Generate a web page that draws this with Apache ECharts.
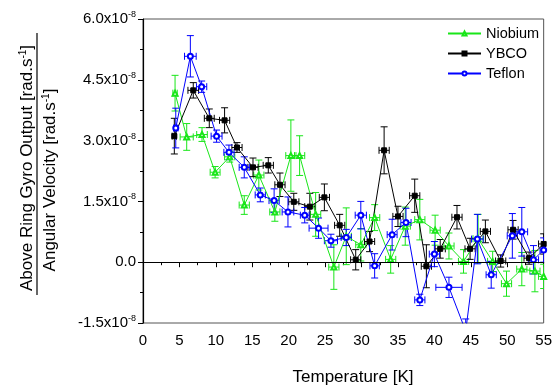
<!DOCTYPE html>
<html>
<head>
<meta charset="utf-8">
<script src="https://cdn.jsdelivr.net/npm/echarts@6/dist/echarts.min.js"></script>
<style>
html,body{margin:0;padding:0;background:#fff;}
#chart{width:555px;height:388px;}
</style>
</head>
<body>
<div id="chart"></div>
<script>
// values in units of 1e-8 rad.s^-1 / rad.s^-1
const niobiumT    = [4.4, 6.0, 8.1, 9.9, 11.9, 13.9, 15.9, 18.1, 20.3, 21.5, 23.7, 26.2, 27.9, 29.9, 31.8, 34.0, 36.0, 38.0, 40.1, 42.0, 44.0, 46.0, 48.0, 49.9, 52.0, 53.8, 55.0];
const niobiumV    = [4.17, 3.09, 3.15, 2.22, 2.60, 1.41, 2.15, 1.24, 2.63, 2.63, 1.18, -0.12, 0.64, 0.43, 1.10, 0.07, 0.89, 1.05, 0.79, 0.40, 0.02, 0.58, 0.02, -0.53, -0.17, -0.22, -0.35];
const niobiumVErr = [0.44, 0.33, 0.17, 0.14, 0.13, 0.23, 0.37, 0.23, 0.88, 0.49, 0.54, 0.55, 0.70, 0.40, 0.32, 0.34, 0.47, 0.50, 0.37, 0.32, 0.29, 0.60, 0.25, 0.31, 0.41, 0.51, 0.30];
const niobiumTErr = [0.3, 0.9, 0.73, 0.68, 0.7, 0.7, 0.7, 0.7, 0.7, 0.7, 0.7, 0.7, 0.7, 0.7, 0.7, 0.7, 0.7, 0.7, 0.7, 0.7, 0.7, 0.7, 0.7, 0.7, 0.7, 0.7, 0.7];

const ybcoT    = [4.3, 6.9, 9.1, 11.2, 12.9, 15.1, 17.2, 18.8, 20.7, 22.9, 24.9, 27.0, 29.2, 31.1, 33.1, 35.0, 37.3, 38.9, 40.8, 43.1, 44.9, 47.0, 49.1, 50.8, 53.0, 55.0];
const ybcoV    = [3.11, 4.24, 3.55, 3.50, 2.83, 2.34, 2.39, 1.91, 1.49, 1.37, 1.60, 0.91, 0.06, 0.51, 2.76, 1.13, 1.64, -0.10, 0.33, 1.11, 0.33, 0.76, 0.03, 0.80, 0.10, 0.45];
const ybcoVErr = [0.44, 0.19, 0.23, 0.31, 0.12, 0.23, 0.19, 0.29, 0.21, 0.33, 0.33, 0.27, 0.25, 0.25, 0.58, 0.25, 0.41, 0.53, 0.23, 0.29, 0.26, 0.28, 0.15, 0.23, 0.15, 0.25];
const ybcoTErr = [0.3, 0.73, 0.68, 0.7, 0.7, 0.7, 0.7, 0.7, 0.7, 0.7, 0.7, 0.7, 0.7, 0.7, 0.7, 0.7, 0.7, 0.7, 0.7, 0.7, 0.7, 0.7, 0.7, 0.7, 0.7, 0.7];

const teflonT    = [4.5, 6.5, 8.05, 10.1, 11.8, 13.9, 16.1, 18.0, 19.9, 22.2, 24.1, 25.8, 27.9, 29.9, 31.8, 34.2, 36.1, 38.0, 40.0, 42.0, 44.3, 45.9, 47.8, 50.7, 52.0, 53.6, 55.0];
const teflonV    = [3.31, 5.08, 4.33, 3.11, 2.71, 2.34, 1.66, 1.52, 1.24, 1.16, 0.84, 0.53, 0.61, 1.16, -0.09, 0.68, 0.98, -0.93, 0.20, -0.62, -1.70, 0.57, -0.31, 0.65, 0.75, 0.06, 0.30];
const teflonVErr = [0.49, 0.51, 0.14, 0.15, 0.18, 0.26, 0.17, 0.29, 0.37, 0.19, 0.25, 0.16, 0.20, 0.34, 0.30, 0.38, 0.35, 0.14, 0.31, 0.25, 0.30, 0.61, 0.33, 0.55, 0.60, 0.35, 0.30];
const teflonTErr = [0.3, 0.8, 0.7, 0.75, 0.7, 0.7, 0.7, 0.7, 0.8, 0.6, 1.3, 0.9, 0.7, 0.77, 0.64, 0.68, 0.7, 0.7, 0.7, 1.8, 0.7, 0.8, 0.7, 0.7, 0.8, 0.7, 0.5];

const xTicks = [0, 5, 10, 15, 20, 25, 30, 35, 40, 45, 50, 55];
const yTicks = [-1.5, 0.0, 1.5, 3.0, 4.5, 6.0];

const FONT = 'Liberation Sans, Arial, sans-serif';
const GREEN = '#19e619', BLACK = '#000000', BLUE = '#0000ff';

function zip(t, v) { return t.map((x, i) => [x, v[i]]); }
function zipErr(t, v, te, ve) { return t.map((x, i) => [x, v[i], te[i], ve[i]]); }

function errRender(color) {
  return function (params, api) {
    const x = api.value(0), y = api.value(1), xe = api.value(2), ye = api.value(3);
    const c = api.coord([x, y]);
    const top = api.coord([x, y + ye]), bot = api.coord([x, y - ye]);
    const l = api.coord([x - xe, y]), r = api.coord([x + xe, y]);
    const h = 3.5;
    const st = { stroke: color, lineWidth: 1 };
    const ln = (x1, y1, x2, y2) => ({ type: 'line', shape: { x1, y1, x2, y2 }, style: st });
    return {
      type: 'group',
      children: [
        ln(c[0], top[1], c[0], bot[1]),
        ln(c[0] - h, top[1], c[0] + h, top[1]),
        ln(c[0] - h, bot[1], c[0] + h, bot[1]),
        ln(l[0], c[1], r[0], c[1]),
        ln(l[0], c[1] - h, l[0], c[1] + h),
        ln(r[0], c[1] - h, r[0], c[1] + h)
      ]
    };
  };
}

function lineSeries(name, data, color, symbol, size) {
  return {
    name, type: 'line', data, symbol, symbolSize: size, clip: true,
    lineStyle: { color, width: 1 },
    itemStyle: { color, borderColor: color, borderWidth: 1 },
    emphasis: { disabled: true }, animation: false, z: 3
  };
}
function errSeries(name, data, color) {
  return {
    name: name + ' err', type: 'custom', data, clip: true,
    encode: { x: 0, y: 1 }, renderItem: errRender(color),
    silent: true, animation: false, z: 2
  };
}

const chart = echarts.init(document.getElementById('chart'), null, { renderer: 'canvas' });
chart.setOption({
  backgroundColor: '#fff',
  animation: false,
  grid: { left: 143, right: 9, top: 19, bottom: 65, show: true, borderColor: '#555', borderWidth: 1 },
  legend: {
    data: ['Niobium', 'YBCO', 'Teflon'],
    orient: 'vertical', left: 447, top: 26, padding: 0,
    itemWidth: 33, itemHeight: 5, itemGap: 5,
    textStyle: { fontFamily: FONT, fontSize: 14.5, color: '#000', lineHeight: 14 },
    selectedMode: false
  },
  xAxis: {
    type: 'value', min: 0, max: 55, interval: 5,
    axisLine: { show: true, lineStyle: { color: '#000', width: 1.2 } },
    axisTick: { show: true, inside: false, length: 5, lineStyle: { color: '#000' } },
    minorTick: { show: true, splitNumber: 2, length: 3, lineStyle: { color: '#000' } },
    splitLine: { show: false },
    axisLabel: {
      margin: 10, fontFamily: FONT, fontSize: 15, color: '#000',
      formatter: v => (xTicks.indexOf(v) >= 0 ? String(v) : '')
    }
  },
  yAxis: {
    type: 'value', min: -1.5, max: 6, interval: 1.5,
    axisLine: { show: true, lineStyle: { color: '#000', width: 1.2 } },
    axisTick: { show: true, inside: false, length: 5, lineStyle: { color: '#000' } },
    minorTick: { show: true, splitNumber: 2, length: 3, lineStyle: { color: '#000' } },
    splitLine: { show: false },
    axisLabel: {
      margin: 7, fontFamily: FONT, color: '#000',
      formatter: function (v) {
        const t = yTicks.find(k => Math.abs(k - v) < 1e-9);
        if (t === undefined) return '';
        if (Math.abs(t) < 1e-9) return '{a|0.0}';
        return '{a|' + t.toFixed(1) + 'x10}{s|-8}';
      },
      rich: {
        a: { fontFamily: FONT, fontSize: 15, color: '#000', lineHeight: 18 },
        s: { fontFamily: FONT, fontSize: 9, color: '#000', verticalAlign: 'top', lineHeight: 18, padding: [0, 0, 6, 0] }
      }
    }
  },
  graphic: [
    {
      type: 'text', x: 27, y: 168, rotation: Math.PI / 2,
      style: {
        text: '{a|Above Ring Gyro Output [rad.s}{s|-1}{a|]}',
        align: 'center', verticalAlign: 'middle',
        rich: {
          a: { fontFamily: FONT, fontSize: 17, fill: '#000', lineHeight: 20 },
          s: { fontFamily: FONT, fontSize: 10, fill: '#000', lineHeight: 20, padding: [0, 0, 8, 0] }
        }
      }
    },
    { type: 'line', shape: { x1: 37, y1: 33, x2: 37, y2: 295 }, style: { stroke: '#000', lineWidth: 1.2 } },
    {
      type: 'text', x: 50, y: 180, rotation: Math.PI / 2,
      style: {
        text: '{a|Angular Velocity [rad.s}{s|-1}{a|]}',
        align: 'center', verticalAlign: 'middle',
        rich: {
          a: { fontFamily: FONT, fontSize: 17, fill: '#000', lineHeight: 20 },
          s: { fontFamily: FONT, fontSize: 10, fill: '#000', lineHeight: 20, padding: [0, 0, 8, 0] }
        }
      }
    },
    {
      type: 'text', x: 353, y: 377,
      style: { text: 'Temperature [K]', fontFamily: FONT, fontSize: 17, fill: '#000', align: 'center', verticalAlign: 'middle' }
    }
  ],
  series: [
    errSeries('Niobium', zipErr(niobiumT, niobiumV, niobiumTErr, niobiumVErr), GREEN),
    Object.assign(lineSeries('Niobium', zip(niobiumT, niobiumV), GREEN, 'emptyTriangle', 5), {
      markLine: {
        silent: true, symbol: 'none', animation: false,
        label: { show: false },
        lineStyle: { color: '#000', type: 'solid', width: 1.2 },
        data: [{ yAxis: 0 }]
      }
    }),
    errSeries('YBCO', zipErr(ybcoT, ybcoV, ybcoTErr, ybcoVErr), BLACK),
    lineSeries('YBCO', zip(ybcoT, ybcoV), BLACK, 'rect', 5),
    errSeries('Teflon', zipErr(teflonT, teflonV, teflonTErr, teflonVErr), BLUE),
    lineSeries('Teflon', zip(teflonT, teflonV), BLUE, 'emptyCircle', 5)
  ]
});
</script>
</body>
</html>
